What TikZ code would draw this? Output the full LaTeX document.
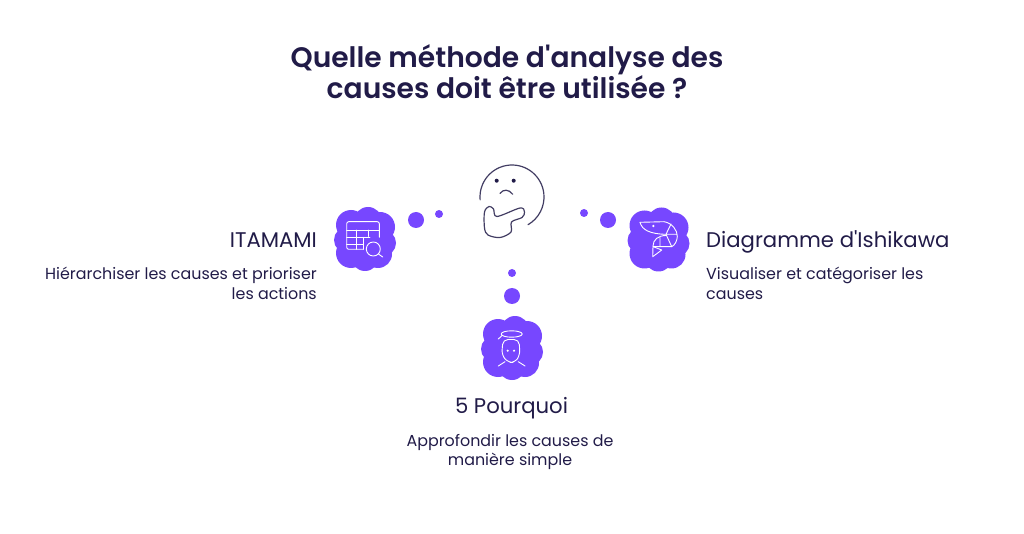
\documentclass[tikz,border=0pt]{standalone}
\usepackage{fontspec}
\setmainfont{Poppins}[Ligatures=TeXOff, BoldFont={Poppins SemiBold}]
\usetikzlibrary{positioning}
\definecolor{myviolet}{RGB}{119, 71, 255}
\definecolor{myink}{RGB}{33, 27, 72}
\tikzset{
  titletext/.style = {font=\fontsize{28.15}{31}\selectfont\bfseries, text=myink, align=center, inner sep=0pt},
  headtext/.style = {font=\fontsize{21.2}{24}\selectfont, text=myink, inner sep=0pt},
  desctext/.style = {font=\fontsize{15.9}{19.7}\selectfont, text=myink, inner sep=0pt},
  bigdot/.style = {circle, fill=myviolet, minimum size=16pt, inner sep=0pt},
  smalldot/.style = {circle, fill=myviolet, minimum size=8pt, inner sep=0pt},
  iconline/.style = {draw=white, line width=0.9pt, line cap=round, line join=round},
  faceline/.style = {draw=myink!85, line width=1.2pt, line cap=round, line join=round}
}
% cloud shape behind each icon
\newcommand{\cloudblob}[2]{
  \fill[myviolet, shift={(#1,#2)}] (0,0) circle (28)
    (-14,-14) circle (15) (3,-18) circle (14) (15,-12) circle (15)
    (18,4) circle (13) (13,15) circle (14) (0,18) circle (14)
    (-14,14) circle (15) (-18,1) circle (13);
}
\begin{document}
\begin{tikzpicture}[x=1pt, y=1pt, yscale=-1]
        \useasboundingbox (0,0) rectangle (1024,534);

        \node (Title) [titletext] at (507,72) {Quelle méthode d'analyse des\\causes doit être utilisée ?};

        % thinking face
        \draw [faceline] (512,197) ++(175:32) arc[start angle=175, end angle=420, radius=32];
        \fill [myink] (496.7,180.7) circle (2) (513.7,180.7) circle (2);
        \draw [faceline] (500,193.5) .. controls (503,189) and (509,189) .. (512.7,194.3);
        \draw [faceline] plot[smooth cycle, tension=0.55] coordinates {(484.5,212) (489,206.5) (493.5,209) (497,216.5) (520,208) (524.5,212) (522,217.5) (511.5,222) (511,232) (500,237.5) (488,235) (484.5,228)};

        % dots
        \node (LeftBig) [bigdot] at (416,220) {};
        \node (LeftSmall) [smalldot] at (439,214) {};
        \node (RightSmall) [smalldot] at (584,213) {};
        \node (RightBig) [bigdot] at (608,220) {};
        \node (BottomSmall) [smalldot] at (512,273) {};
        \node (BottomBig) [bigdot] at (512,296) {};

        % left cloud, table and lens
        \cloudblob{365}{239}
        \draw [iconline, rounded corners=2pt] (363.3,249.3) -- (346.7,249.3) -- (346.7,221.7) -- (379.3,221.7) -- (379.3,237.3);
        \draw [iconline] (346.7,230) -- (379.3,230) (346.7,237.3) -- (370,237.3) (346.7,244) -- (363.3,244)
          (356.7,230) -- (356.7,249.3) (368.3,230) -- (368.3,236.5) (363.3,237.3) -- (363.3,249.3);
        \draw [iconline] (373.3,249) circle (7) (378.5,254) -- (382.7,257);

        % right cloud, shrimp
        \cloudblob{658.5}{239.5}
        \draw [iconline] (640,222.3) -- (664,221.7) .. controls (672,223) and (677.5,230) .. (677.3,236.7)
          .. controls (677,241) and (675,245) .. (671.7,246.7);
        \draw [iconline] (640,222.3) .. controls (642,230) and (650,234) .. (666,234.3) -- (677,234.3);
        \draw [iconline] (666,235.5) .. controls (658,235.5) and (653,240) .. (653,246) -- (652.7,256.7) -- (661.7,250) -- (653.3,246.7);
        \draw [iconline] (666,234.3) -- (671.7,246.7) (666,234.3) -- (671,224) (653,246.7) -- (671.7,246.7) (660,237.5) -- (660,246.7);
        \fill [white] (653.3,226) circle (1.3);

        % bottom cloud, angel
        \cloudblob{512}{348}
        \draw [iconline] (511.7,334) ellipse (10.5 and 3.2) (501.5,336) -- (498.3,339);
        \draw [iconline, rounded corners=5pt] (503,339.5) -- (501.7,355) -- (508,362.5) -- (515,362.5) -- (520,355) -- (519,339.5) -- cycle;
        \draw [iconline] (498.3,366) -- (505,361.7) (525,366) -- (518.3,361.7);
        \fill [white] (507.7,350.7) circle (1.2) (514,350.7) circle (1.2);

        % labels
        \node (Itamami) [headtext, anchor=east] at (317,240) {ITAMAMI};
        \node (ItamamiText) [desctext, align=right, below=19.5pt of Itamami.south east, anchor=north east] {Hiérarchiser les causes et prioriser\\les actions};
        \node (Ishikawa) [headtext, anchor=west] at (706,242) {Diagramme d'Ishikawa};
        \node (IshikawaText) [desctext, align=left, below=13.7pt of Ishikawa.south west, anchor=north west] {Visualiser et catégoriser les\\causes};
        \node (Pourquoi) [headtext] at (511.5,408) {5 Pourquoi};
        \node (PourquoiText) [desctext, align=center, below=14.7pt of Pourquoi, xshift=-1.5pt] {Approfondir les causes de\\manière simple};
\end{tikzpicture}
\end{document}
